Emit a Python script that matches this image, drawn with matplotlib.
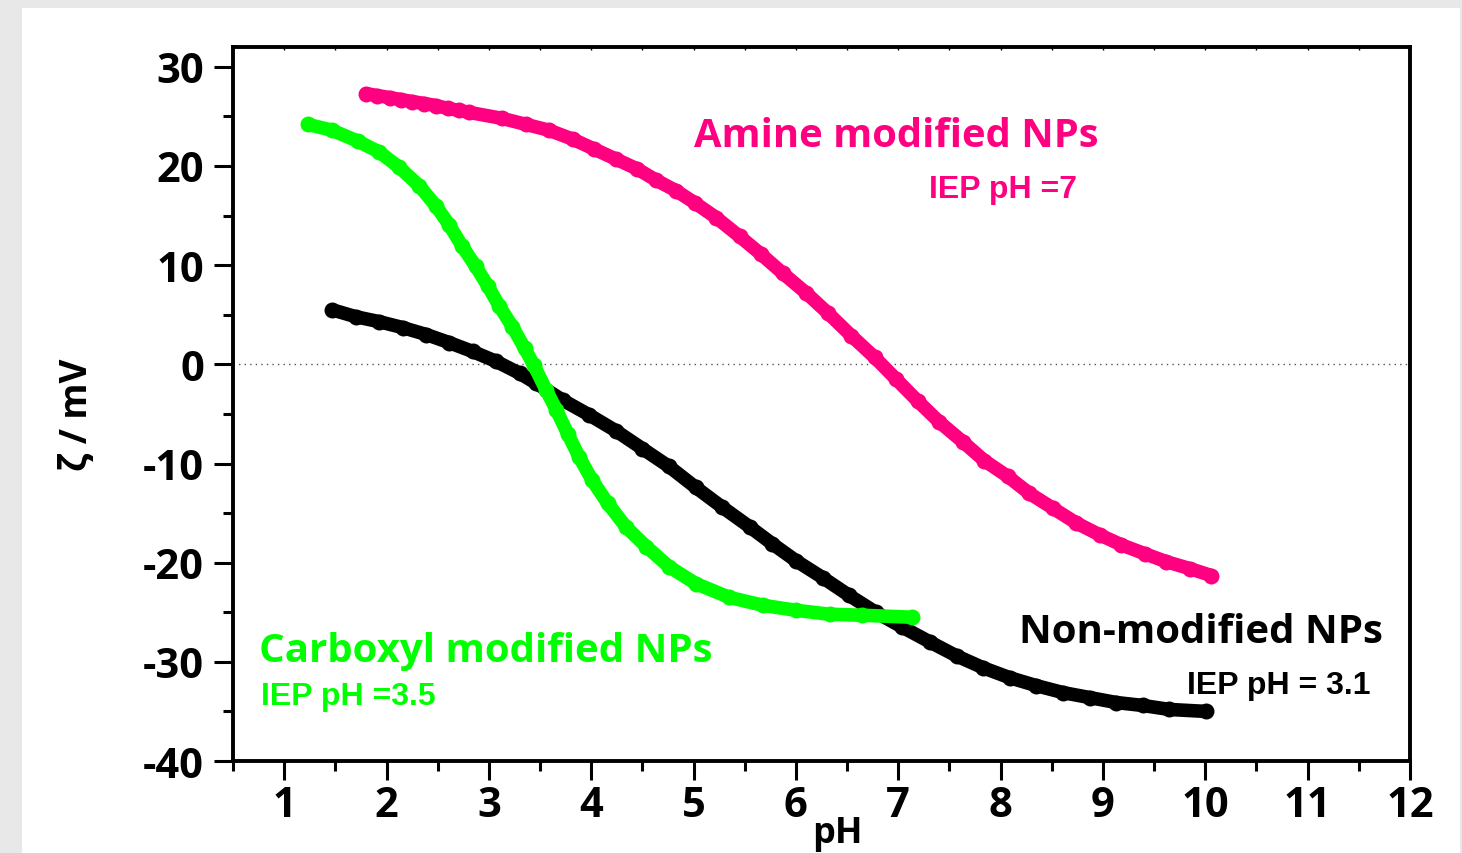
import matplotlib
matplotlib.use("Agg")
import matplotlib.pyplot as plt
import matplotlib.lines as mlines
from matplotlib.patches import Rectangle
from matplotlib.ticker import FuncFormatter

# zeta potential vs pH
ph_amine = [1.80, 1.91, 2.03, 2.14, 2.25, 2.37, 2.48, 2.60, 2.71, 2.81, 3.13, 3.36, 3.59,
            3.82, 4.03, 4.24, 4.45, 4.63, 4.83, 5.01, 5.22, 5.45, 5.66, 5.87, 6.10, 6.31,
            6.54, 6.77, 6.98, 7.19, 7.40, 7.63, 7.84, 8.07, 8.28, 8.51, 8.74, 8.97, 9.18,
            9.41, 9.62, 9.85, 10.06]
zeta_amine = [27.3, 27.1, 26.9, 26.7, 26.5, 26.3, 26.1, 25.8, 25.6, 25.4, 24.8, 24.2, 23.6,
              22.7, 21.7, 20.7, 19.7, 18.6, 17.5, 16.3, 14.8, 12.9, 11.1, 9.2, 7.2, 5.2,
              2.9, 0.7, -1.5, -3.7, -5.8, -7.8, -9.7, -11.3, -13.0, -14.5, -16.0, -17.2,
              -18.2, -19.1, -19.9, -20.6, -21.3]

ph_carboxyl = [1.23, 1.47, 1.72, 1.93, 2.12, 2.32, 2.48, 2.61, 2.74, 2.87, 2.99, 3.10, 3.23,
               3.35, 3.44, 3.56, 3.66, 3.77, 3.88, 4.01, 4.16, 4.34, 4.54, 4.76, 5.02, 5.35,
               5.68, 6.00, 6.33, 6.65, 7.13]
zeta_carboxyl = [24.2, 23.6, 22.5, 21.4, 19.9, 18.0, 16.0, 14.1, 11.9, 9.9, 7.9, 5.9, 3.8,
                 1.6, -0.1, -2.6, -4.6, -7.0, -9.3, -11.7, -14.0, -16.4, -18.4, -20.4,
                 -22.1, -23.5, -24.3, -24.8, -25.2, -25.3, -25.5]

ph_plain = [1.47, 1.70, 1.93, 2.16, 2.39, 2.61, 2.84, 3.07, 3.30, 3.46, 3.72, 3.98, 4.24,
            4.50, 4.76, 5.02, 5.28, 5.55, 5.77, 6.00, 6.26, 6.52, 6.78, 7.04, 7.31, 7.57,
            7.83, 8.09, 8.35, 8.61, 8.87, 9.13, 9.39, 9.65, 10.01]
zeta_plain = [5.5, 4.8, 4.3, 3.7, 3.0, 2.2, 1.3, 0.3, -0.9, -1.9, -3.6, -5.1, -6.7,
              -8.5, -10.3, -12.4, -14.4, -16.4, -18.1, -19.8, -21.5, -23.3, -25.0, -26.5,
              -28.0, -29.4, -30.6, -31.6, -32.4, -33.1, -33.6, -34.1, -34.4, -34.8, -35.0]

PINK = '#ff0080'
GREEN = '#00ff00'
ARIAL = 'Liberation Sans'

plt.rcParams['font.family'] = ['Open Sans', 'DejaVu Sans']
plt.rcParams['font.weight'] = 'bold'

fig = plt.figure(figsize=(14.62, 8.54), dpi=100, facecolor='#e8e8e8')
# white panel on the gray page
fig.add_artist(Rectangle((0.01505, 0.0), 0.9836, 0.9895, transform=fig.transFigure,
                         facecolor='white', edgecolor='none', zorder=-10))

ax = fig.add_axes([0.1594, 0.1077, 0.805, 0.8361])
ax.set_facecolor('white')

ax.axhline(0, color='#555555', linestyle=(0, (1, 3)), linewidth=1.0, zorder=1)

for xs, ys, c, z in [(ph_plain, zeta_plain, 'black', 2),
                     (ph_carboxyl, zeta_carboxyl, GREEN, 3),
                     (ph_amine, zeta_amine, PINK, 2)]:
    ax.plot(xs, ys, '-', color=c, linewidth=9.8, solid_capstyle='round',
            solid_joinstyle='round', zorder=z)
    ax.plot(xs, ys, 'o', color=c, markersize=11.5, markeredgewidth=0, zorder=z)

ax.set_xlim(0.5, 12)
ax.set_ylim(-40, 32)
ax.set_xticks(range(1, 13))
ax.set_xticks([x + 0.5 for x in range(0, 12)], minor=True)
ax.set_yticks(range(-40, 31, 10))
ax.set_yticks(range(-35, 31, 10), minor=True)
ax.yaxis.set_major_formatter(FuncFormatter(lambda v, p: '%d' % v))

for s in ax.spines.values():
    s.set_linewidth(2.8)

ax.tick_params(axis='both', which='major', direction='out', length=14, width=2.2,
               labelsize=30, pad=7)
ax.tick_params(axis='x', which='major', pad=3)
ax.tick_params(axis='both', which='minor', direction='out', length=7, width=2.2)
ax.tick_params(axis='x', which='both', top=True, labeltop=False)
# tiny inward ticks along the top frame
for tick in ax.xaxis.get_major_ticks() + ax.xaxis.get_minor_ticks():
    tick.tick2line.set_marker(mlines.TICKDOWN)
    tick.tick2line.set_markersize(2)
    tick.tick2line.set_markeredgewidth(1)

fig.text(0.0525, 0.514, 'ζ / mV', rotation=90, ha='center', va='center',
         fontsize=26.5, fontweight='bold')
fig.text(0.573, 0.002, 'pH', ha='center', va='bottom', fontsize=26, fontweight='bold')

ax.text(6.98, 22.0, 'Amine modified NPs', color=PINK, ha='center', va='baseline',
        fontsize=28.7, fontweight='bold')
ax.text(7.30, 16.85, 'IEP pH =7', color=PINK, ha='left', va='baseline',
        fontsize=23, fontweight='bold', family=ARIAL)
ax.text(9.96, -28.0, 'Non-modified NPs', color='black', ha='center', va='baseline',
        fontsize=29, fontweight='bold')
ax.text(9.82, -33.1, 'IEP pH = 3.1', color='black', ha='left', va='baseline',
        fontsize=23, fontweight='bold', family=ARIAL)
ax.text(0.756, -29.9, 'Carboxyl modified NPs', color=GREEN, ha='left', va='baseline',
        fontsize=29, fontweight='bold')
ax.text(0.775, -34.3, 'IEP pH =3.5', color=GREEN, ha='left', va='baseline',
        fontsize=23, fontweight='bold', family=ARIAL)

fig.savefig('out.png', dpi=100, facecolor=fig.get_facecolor())
